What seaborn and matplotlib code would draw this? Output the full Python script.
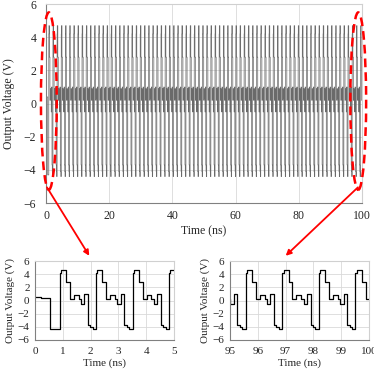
import numpy as np
import pandas as pd
import seaborn as sns
import matplotlib.pyplot as plt
from matplotlib.patches import Ellipse, ConnectionPatch

# 立ち上がり前の区間 (ns, V)
start_t = [0.0, 0.20, 0.54]
start_v = [0.5, 0.4, -4.3]
# 1周期分の波形 (立ち上がりからの相対時間 ns, 電圧 V) 下の拡大図から読み取り
cycle_dt = [0.00, 0.05, 0.23, 0.37, 0.51, 0.69, 0.78, 0.90, 1.03, 1.12, 1.21]
cycle_v = [4.2, 4.7, 2.8, 0.2, 0.9, 0.3, -0.5, 1.0, -3.7, -4.1, -4.4]
first_rise = 0.88
period = 1.315
t_end = 100.0

# 周期を並べて時系列を作る
t_list = list(start_t)
v_list = list(start_v)
r = first_rise
while r < t_end:
    for dt, v in zip(cycle_dt, cycle_v):
        if r + dt * period / 1.33 < t_end:
            t_list.append(r + dt * period / 1.33)
            v_list.append(v)
    r += period
t_list.append(t_end)
v_list.append(v_list[-1])
df = pd.DataFrame({"t": t_list, "v": v_list})

sns.set_style("whitegrid")
plt.rcParams['font.family'] = ['Liberation Serif', 'DejaVu Serif']

fig = plt.figure(figsize=(3.74, 3.74), dpi=100)
ax = fig.add_axes([0.123, 0.457, 0.845, 0.532])
ax1 = fig.add_axes([0.094, 0.091, 0.371, 0.211])
ax2 = fig.add_axes([0.615, 0.091, 0.372, 0.211])


def style(a, xlim, xticks, fs, ypad, lpad):
    a.set_xlim(*xlim)
    a.set_ylim(-6, 6)
    a.set_xticks(xticks)
    a.set_yticks(range(-6, 7, 2))
    a.grid(True, color="#d9d9d9", lw=0.6)
    for s in ["top", "right"]:
        a.spines[s].set_color("#d0d0d0")
    for s in ["left", "bottom"]:
        a.spines[s].set_color("#808080")
    for s in a.spines.values():
        s.set_linewidth(0.8)
    a.tick_params(axis="x", length=0, pad=5, labelsize=fs)
    a.tick_params(axis="y", length=0, pad=ypad, labelsize=fs)
    a.set_xlabel("Time (ns)", fontsize=fs, labelpad=2)
    a.set_ylabel("Output Voltage (V)", fontsize=fs, labelpad=lpad)


sns.lineplot(data=df, x="t", y="v", ax=ax, color="#6a6a6a", lw=0.5,
             estimator=None, sort=False, drawstyle="steps-post")
style(ax, (0, 100), range(0, 101, 20), 8.5, 7, 6)

d1 = df[df.t <= 5.5]
sns.lineplot(data=d1, x="t", y="v", ax=ax1, color="black", lw=0.9,
             estimator=None, sort=False, drawstyle="steps-post")
style(ax1, (0, 5), range(0, 6), 8, 4, 2)

d2 = df[df.t >= 94.5]
sns.lineplot(data=d2, x="t", y="v", ax=ax2, color="black", lw=0.9,
             estimator=None, sort=False, drawstyle="steps-post")
style(ax2, (95, 100), range(95, 101), 8, 4, 2)

# 赤い破線の楕円
for cx in [0.9, 98.8]:
    e = Ellipse((cx, 0.15), 5.0, 10.7, fill=False, ec="red", lw=1.8,
                ls=(0, (3.5, 2)), clip_on=False, zorder=5)
    ax.add_patch(e)

# 矢印
for xa, xb, axb in [(0.3, 1.95, ax1), (98.7, 97.0, ax2)]:
    con = ConnectionPatch(xyA=(xa, -5.05), coordsA=ax.transData,
                          xyB=(xb, 6.8), coordsB=axb.transData,
                          arrowstyle="-|>", color="red", lw=1.3,
                          mutation_scale=8)
    fig.add_artist(con)

fig.savefig("out.png", dpi=100)
